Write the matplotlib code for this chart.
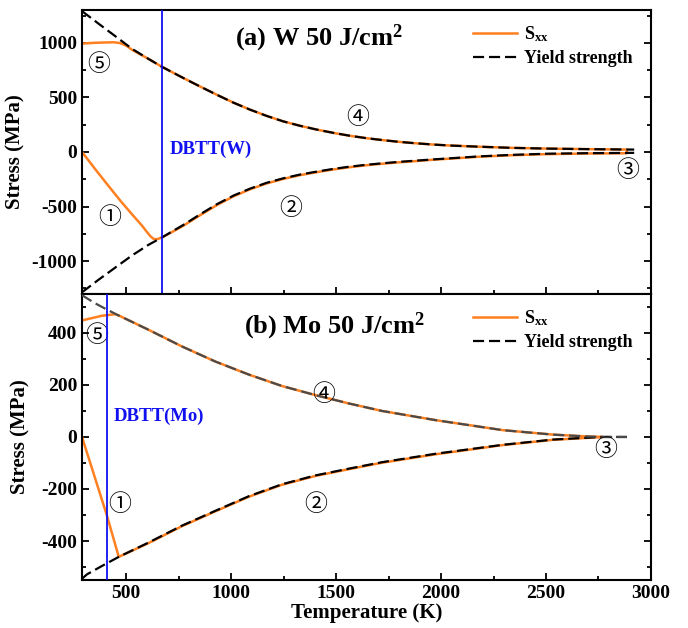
import numpy as np
import matplotlib
matplotlib.use('Agg')
import matplotlib.pyplot as plt
from matplotlib.ticker import MultipleLocator

#----------- Fonts -----------
plt.rcParams['font.family'] = ['Liberation Serif', 'Noto Sans CJK SC', 'DejaVu Sans']
plt.rcParams['font.weight'] = 'bold'
plt.rcParams['axes.unicode_minus'] = False
plt.rcParams['mathtext.fontset'] = 'custom'
plt.rcParams['mathtext.rm'] = 'Liberation Serif:bold'
plt.rcParams['mathtext.bf'] = 'Liberation Serif:bold'
plt.rcParams['mathtext.it'] = 'Liberation Serif:bold:italic'

#----------- Data: W 50 J/cm2 -----------
# yield strength, upper (tensile) branch
w_yield_up_T = [290, 369, 449, 528, 607, 669, 720, 773, 852, 931, 1011, 1090, 1170, 1249, 1328,
                1408, 1487, 1567, 1646, 1725, 1804, 1884, 1963, 2043, 2186, 2333, 2503, 2700, 2920]
w_yield_up_S = [1290, 1175, 1060, 945, 852, 782, 730, 677, 600, 525, 452, 388, 330, 280, 240,
                205, 175, 148, 126, 108, 92, 79, 68, 59, 48, 38, 31, 26, 22]
# yield strength, lower (compressive) branch
w_yield_lo_T = [290, 369, 449, 528, 607, 669, 720, 773, 852, 931, 1011, 1090, 1170, 1249, 1328,
                1408, 1487, 1567, 1646, 1725, 1804, 1884, 1963, 2043, 2186, 2333, 2503, 2700, 2920]
w_yield_lo_S = [-1285, -1170, -1058, -948, -850, -785, -727, -668, -572, -480, -400, -336, -282,
                -241, -207, -180, -155, -134, -117, -103, -90, -79, -68, -58, -40, -27, -16, -11, -8]
# Sxx history (heating -> melting -> cooling)
w_sxx_T = [290, 350, 400, 472, 530, 576, 600, 615, 630, 645, 669, 720, 773, 852, 931, 1011,
           1090, 1170, 1249, 1328, 1408, 1487, 1567, 1646, 1725, 1804, 1884, 1963, 2043, 2186,
           2333, 2503, 2700, 2885,
           2885, 2700, 2503, 2333, 2186, 2043, 1963, 1884, 1804, 1725, 1646, 1567, 1487, 1408,
           1328, 1249, 1170, 1090, 1011, 931, 852, 773, 720, 669, 607, 528, 500, 470, 440, 400,
           350, 290]
w_sxx_S = [0, -150, -272, -445, -575, -675, -735, -770, -795, -800, -785, -732, -675, -580,
           -488, -407, -342, -288, -247, -212, -185, -160, -139, -121, -107, -94, -83, -71, -61,
           -43, -30, -20, -14, -12,
           22, 26, 31, 38, 48, 59, 68, 79, 92, 108, 126, 148, 175, 205,
           240, 280, 330, 388, 452, 525, 600, 677, 730, 782, 852, 936, 975, 998, 1005, 1003,
           1000, 993]
w_dbtt = 670

#----------- Data: Mo 50 J/cm2 -----------
mo_yield_up_T = [290, 350, 401, 457, 607, 766, 925, 1084, 1242, 1401, 1560, 1719, 1979,
                 2296, 2534, 2693, 2770, 2885]
mo_yield_up_S = [545, 515, 493, 470, 412, 348, 290, 240, 196, 161, 129, 100, 64,
                 26, 9, 2, 0, 0]
mo_yield_lo_T = [290, 314, 385, 465, 607, 766, 925, 1084, 1242, 1401, 1560, 1719, 1979,
                 2296, 2534, 2766, 2885]
mo_yield_lo_S = [-545, -528, -496, -461, -406, -341, -284, -228, -182, -148, -122, -97, -64,
                 -30, -10, 0, 0]
mo_sxx_T = [290, 409, 465, 607, 766, 925, 1084, 1242, 1401, 1560, 1719, 1979, 2296, 2534,
            2770, 2693, 2534, 2296, 1979, 1719, 1560, 1401, 1242, 1084, 925, 766, 607, 473,
            449, 385, 290]
mo_sxx_S = [0, -303, -461, -408, -343, -286, -230, -184, -150, -124, -99, -66, -31, -11,
            0, 2, 9, 26, 64, 100, 129, 161, 196, 240, 290, 348, 412, 464,
            472, 466, 448]
mo_dbtt = 410

# stage markers (circled numbers) for each panel
stage_labels = ['①', '②', '③', '④', '⑤']
w_stage_T = [423, 1284, 2890, 1603, 368]
w_stage_S = [-600, -520, -170, 315, 800]
mo_stage_T = [470, 1401, 2786, 1442, 360]
mo_stage_S = [-258, -258, -50, 162, 392]

#----------- Style -----------
orange = '#ff8020'
blue = '#1010f0'

fig = plt.figure(figsize=(6.88, 6.28), dpi=100)
ax1 = fig.add_axes([0.1192, 0.532, 0.827, 0.452])
ax2 = fig.add_axes([0.1192, 0.0764, 0.827, 0.4556], sharex=ax1)


def draw_panel(ax, yT_up, yS_up, yT_lo, yS_lo, sT, sS, dbtt, dbtt_label, dbtt_xy,
               title, title_xy, st_T, st_S, up_color, ylab_x):
    sxx_line, = ax.plot(sT, sS, color=orange, lw=1.8, label=r'$\mathbf{S_{xx}}$', zorder=2)
    ys_line, = ax.plot(yT_lo, yS_lo, color='black', lw=1.6, ls=(0, (5, 2.2)),
                       label='Yield strength', zorder=3)
    ax.plot(yT_up, yS_up, color=up_color, lw=1.6, ls=(0, (5, 2.2)), zorder=3)
    ax.axvline(dbtt, color=blue, lw=1.3, zorder=4)
    ax.text(dbtt_xy[0], dbtt_xy[1], dbtt_label, color=blue, fontsize=13.5,
            fontweight='bold', ha='left', va='center')
    ax.text(title_xy[0], title_xy[1], title, transform=ax.transAxes, fontsize=19,
            fontweight='bold', ha='center', va='center')
    for lab, t, s in zip(stage_labels, st_T, st_S):
        ax.text(t, s, lab, fontsize=16.5, fontweight='normal', ha='center', va='center',
                family=['Noto Sans CJK SC', 'DejaVu Sans'])
    ax.legend(handles=[sxx_line, ys_line], loc='upper right', frameon=False,
              fontsize=13, handlelength=2.4, handletextpad=0.4, labelspacing=0.35,
              borderaxespad=0.3, bbox_to_anchor=(0.99, 0.995))
    ax.set_ylabel('Stress (MPa)', fontsize=15, fontweight='bold')
    ax.yaxis.set_label_coords(ylab_x, 0.5)
    ax.tick_params(which='both', direction='in', right=True, top=False, labelsize=14, width=1.3)
    ax.tick_params(which='major', length=5)
    ax.tick_params(which='minor', length=3)
    for sp in ax.spines.values():
        sp.set_linewidth(1.5)


draw_panel(ax1, w_yield_up_T, w_yield_up_S, w_yield_lo_T, w_yield_lo_S, w_sxx_T, w_sxx_S,
           w_dbtt, 'DBTT(W)', (708, 20), r'(a) W 50 J/cm$^{\mathbf{2}}$', (0.417, 0.90),
           w_stage_T, w_stage_S, 'black', -0.10)
draw_panel(ax2, mo_yield_up_T, mo_yield_up_S, mo_yield_lo_T, mo_yield_lo_S, mo_sxx_T, mo_sxx_S,
           mo_dbtt, 'DBTT(Mo)', (441, 80), r'(b) Mo 50 J/cm$^{\mathbf{2}}$', (0.444, 0.888),
           mo_stage_T, mo_stage_S, '#4a4a4a', -0.09)

ax1.set_xlim(290, 3000)
ax1.set_ylim(-1300, 1300)
ax1.yaxis.set_major_locator(MultipleLocator(500))
ax1.yaxis.set_minor_locator(MultipleLocator(250))
ax1.xaxis.set_major_locator(MultipleLocator(500))
ax1.xaxis.set_minor_locator(MultipleLocator(250))
plt.setp(ax1.get_xticklabels(), visible=False)

ax2.set_ylim(-550, 550)
ax2.yaxis.set_major_locator(MultipleLocator(200))
ax2.yaxis.set_minor_locator(MultipleLocator(100))
ax2.set_xlabel('Temperature (K)', fontsize=15, fontweight='bold', labelpad=1)

for ax in (ax1, ax2):
    for lab in ax.get_xticklabels() + ax.get_yticklabels():
        lab.set_fontweight('bold')

fig.savefig('out.png', dpi=100)
